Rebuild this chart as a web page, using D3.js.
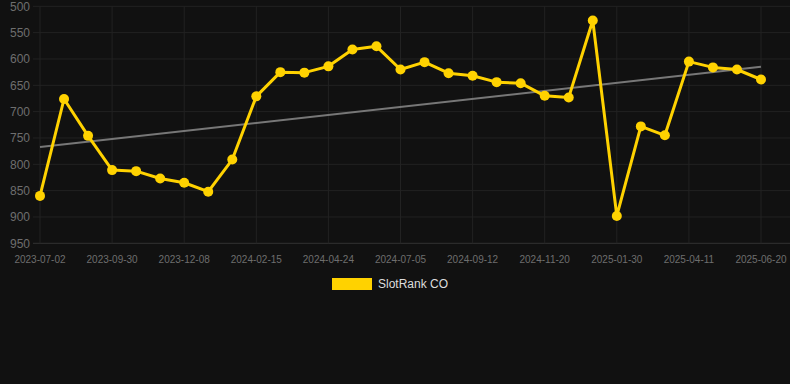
<!DOCTYPE html>
<html>
<head>
<meta charset="utf-8">
<script src="https://cdn.jsdelivr.net/npm/d3@7"></script>
<style>
  html, body { margin: 0; padding: 0; background: #111111; }
  svg { display: block; }
</style>
</head>
<body>
<svg id="chart" width="790" height="384"></svg>
<script>
// Data
const dates = [
  "2023-07-02","2023-07-31","2023-08-30","2023-09-30","2023-10-22","2023-11-15",
  "2023-12-08","2024-01-01","2024-01-24","2024-02-15","2024-03-09","2024-04-01",
  "2024-04-24","2024-05-17","2024-06-10","2024-07-05","2024-07-28","2024-08-20",
  "2024-09-12","2024-10-05","2024-10-28","2024-11-20","2024-12-13","2025-01-06",
  "2025-01-30","2025-02-22","2025-03-18","2025-04-11","2025-05-04","2025-05-27",
  "2025-06-20"
];
const ranks = [
  860, 676, 746, 811, 813, 827, 835, 852, 791, 671, 625, 626,
  614, 582, 576, 620, 606, 627, 632, 644, 646, 670, 673, 527,
  898, 728, 745, 605, 616, 620, 639
];
const trendEnds = [767, 615];
const yTicks = [500, 550, 600, 650, 700, 750, 800, 850, 900, 950];
const xTickLabels = ["2023-07-02","2023-09-30","2023-12-08","2024-02-15","2024-04-24",
  "2024-07-05","2024-09-12","2024-11-20","2025-01-30","2025-04-11","2025-06-20"];
const seriesName = "SlotRank CO";

const svg = d3.select("#chart");
const gold = "#FFD200";
const gridLeft = 33, gridRight = 790;

const x = d3.scalePoint().domain(dates).range([40, 761]);
const y = d3.scaleLinear().domain([500, 950]).range([6.3, 243.3]);

// Horizontal grid
svg.append("g").selectAll("line").data(yTicks).join("line")
  .attr("x1", gridLeft).attr("x2", gridRight)
  .attr("y1", d => y(d)).attr("y2", d => y(d))
  .attr("stroke", d => d === 950 ? "#333" : "#222").attr("stroke-width", 1);

// Vertical grid
svg.append("g").selectAll("line").data(xTickLabels).join("line")
  .attr("x1", d => x(d)).attr("x2", d => x(d))
  .attr("y1", y(500)).attr("y2", y(950))
  .attr("stroke", "#222").attr("stroke-width", 1);

// Y labels
svg.append("g").selectAll("text").data(yTicks).join("text")
  .attr("x", 30).attr("y", d => y(d)).attr("dy", "0.35em")
  .attr("text-anchor", "end")
  .attr("font-family", "Liberation Sans, Arial, sans-serif")
  .attr("font-size", 12).attr("fill", "#6e6e6e")
  .text(d => d);

// X labels
svg.append("g").selectAll("text").data(xTickLabels).join("text")
  .attr("x", d => x(d)).attr("y", 263)
  .attr("text-anchor", "middle")
  .attr("font-family", "Liberation Sans, Arial, sans-serif")
  .attr("font-size", 10).attr("fill", "#6e6e6e")
  .text(d => d);

// Trend line
svg.append("line")
  .attr("x1", x(dates[0])).attr("x2", x(dates[dates.length - 1]))
  .attr("y1", y(trendEnds[0])).attr("y2", y(trendEnds[1]))
  .attr("stroke", "#777").attr("stroke-width", 2);

// Series line
const line = d3.line().x((d, i) => x(dates[i])).y(d => y(d));
svg.append("path").datum(ranks)
  .attr("d", line).attr("fill", "none")
  .attr("stroke", gold).attr("stroke-width", 3).attr("stroke-linejoin", "round");

// Points
svg.append("g").selectAll("circle").data(ranks).join("circle")
  .attr("cx", (d, i) => x(dates[i])).attr("cy", d => y(d))
  .attr("r", 5).attr("fill", gold);

// Legend
const lg = svg.append("g");
lg.append("rect").attr("x", 332).attr("y", 278).attr("width", 40).attr("height", 12)
  .attr("fill", gold);
lg.append("text").attr("x", 378).attr("y", 284).attr("dy", "0.35em")
  .attr("font-family", "Liberation Sans, Arial, sans-serif")
  .attr("font-size", 12).attr("fill", "#dddddd").text(seriesName);
</script>
</body>
</html>
